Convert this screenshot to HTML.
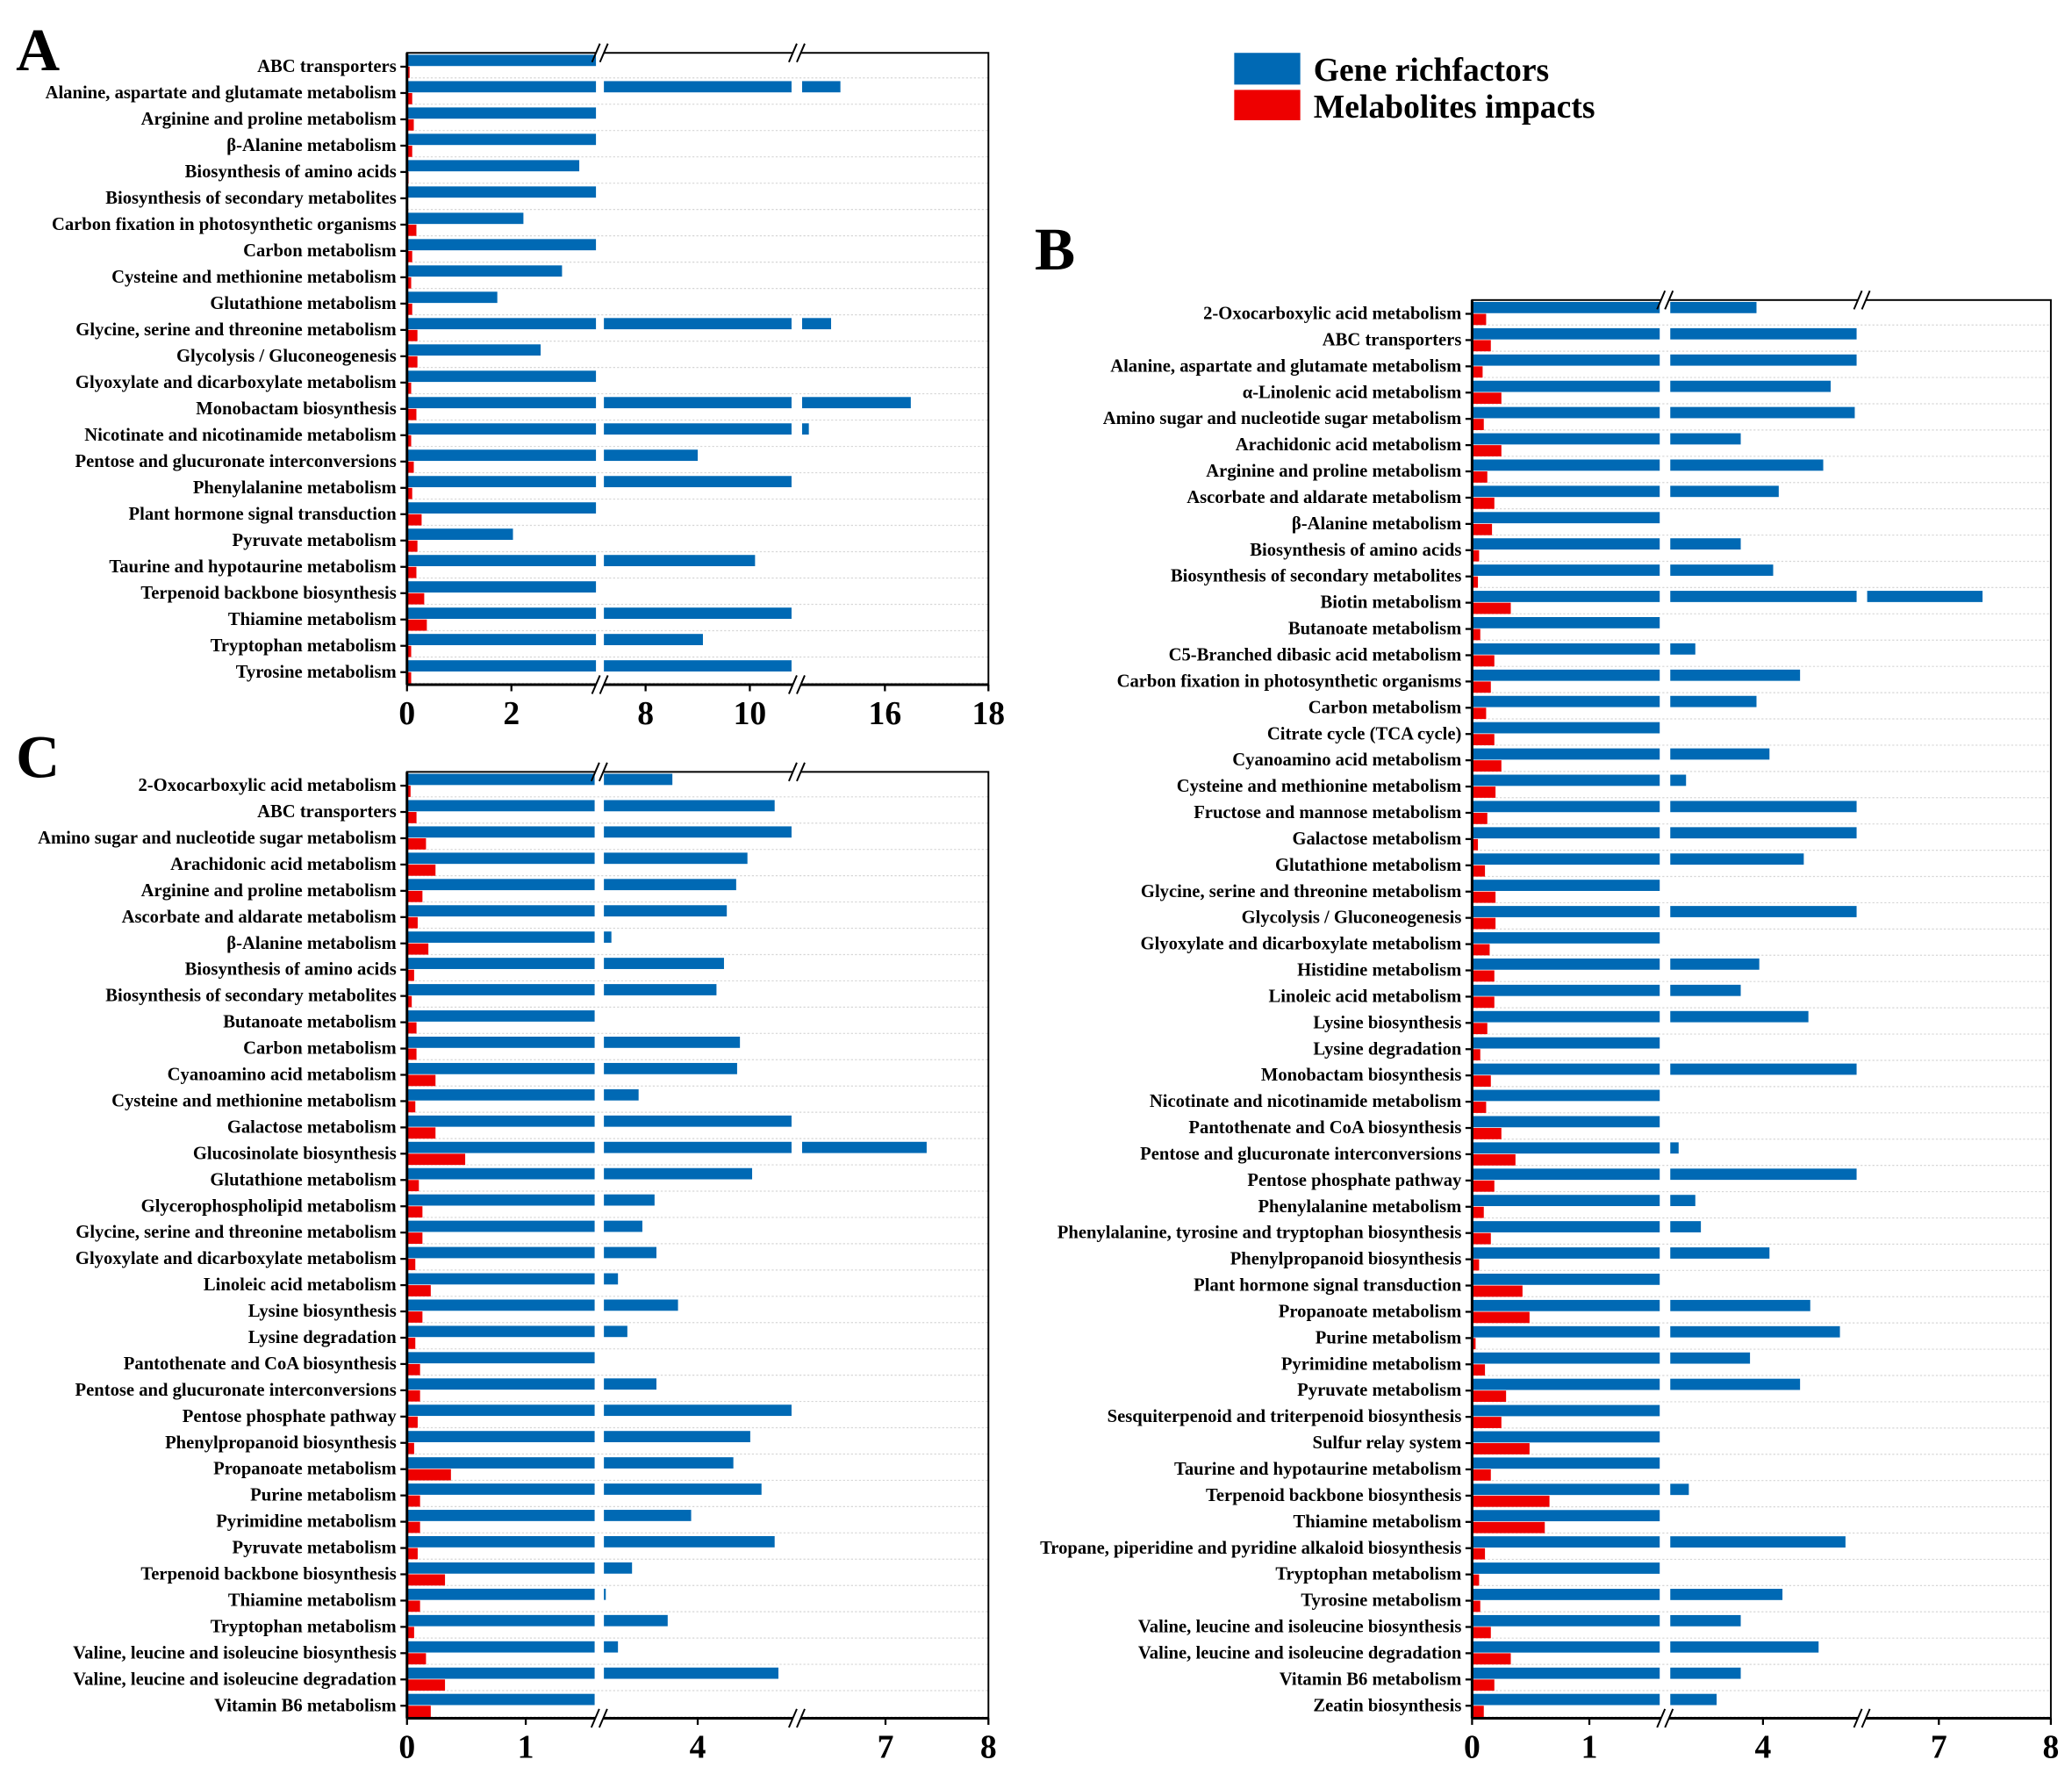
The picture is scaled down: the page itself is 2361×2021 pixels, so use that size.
<!DOCTYPE html>
<html><head><meta charset="utf-8"><style>
html,body{margin:0;padding:0;background:#fff}
svg{display:block}
text{font-family:"Liberation Serif",serif;font-weight:bold;fill:#000}
</style></head><body>
<svg id="fig" width="2361" height="2021" viewBox="0 0 1568 1342.2" xmlns="http://www.w3.org/2000/svg">
<text x="12" y="53" font-size="46">A</text>
<text x="783" y="204" font-size="46">B</text>
<text x="12" y="588" font-size="46">C</text>
<g>
<rect x="934" y="40" width="50" height="24" fill="#0069b4"/>
<text x="994" y="61" font-size="25">Gene richfactors</text>
<rect x="934" y="68" width="50" height="23" fill="#ee0000"/>
<text x="994" y="89" font-size="25">Melabolites impacts</text>
</g>
</svg>
<script>
// ---------- Panel A data ----------
const catsA = ["ABC transporters","Alanine, aspartate and glutamate metabolism","Arginine and proline metabolism","β-Alanine metabolism","Biosynthesis of amino acids","Biosynthesis of secondary metabolites","Carbon fixation in photosynthetic organisms","Carbon metabolism","Cysteine and methionine metabolism","Glutathione metabolism","Glycine, serine and threonine metabolism","Glycolysis / Gluconeogenesis","Glyoxylate and dicarboxylate metabolism","Monobactam biosynthesis","Nicotinate and nicotinamide metabolism","Pentose and glucuronate interconversions","Phenylalanine metabolism","Plant hormone signal transduction","Pyruvate metabolism","Taurine and hypotaurine metabolism","Terpenoid backbone biosynthesis","Thiamine metabolism","Tryptophan metabolism","Tyrosine metabolism"];
const geneA = [5,15.14,5,5,3.3,5,2.23,5,2.97,1.73,14.96,2.56,5,16.5,14.53,9.0,12,5,2.03,10.1,5,12,9.1,12];
const metA = [0.05,0.1,0.13,0.1,0.03,0,0.18,0.1,0.08,0.1,0.2,0.2,0.08,0.18,0.08,0.13,0.1,0.28,0.2,0.18,0.33,0.38,0.08,0.08];
const ticksA = ["0","2","8","10","16","18"];
const tickValsA = [0,2,8,10,16,18];

// ---------- Panel B data ----------
const catsB = ["2-Oxocarboxylic acid metabolism","ABC transporters","Alanine, aspartate and glutamate metabolism","α-Linolenic acid metabolism","Amino sugar and nucleotide sugar metabolism","Arachidonic acid metabolism","Arginine and proline metabolism","Ascorbate and aldarate metabolism","β-Alanine metabolism","Biosynthesis of amino acids","Biosynthesis of secondary metabolites","Biotin metabolism","Butanoate metabolism","C5-Branched dibasic acid metabolism","Carbon fixation in photosynthetic organisms","Carbon metabolism","Citrate cycle (TCA cycle)","Cyanoamino acid metabolism","Cysteine and methionine metabolism","Fructose and mannose metabolism","Galactose metabolism","Glutathione metabolism","Glycine, serine and threonine metabolism","Glycolysis / Gluconeogenesis","Glyoxylate and dicarboxylate metabolism","Histidine metabolism","Linoleic acid metabolism","Lysine biosynthesis","Lysine degradation","Monobactam biosynthesis","Nicotinate and nicotinamide metabolism","Pantothenate and CoA biosynthesis","Pentose and glucuronate interconversions","Pentose phosphate pathway","Phenylalanine metabolism","Phenylalanine, tyrosine and tryptophan biosynthesis","Phenylpropanoid biosynthesis","Plant hormone signal transduction","Propanoate metabolism","Purine metabolism","Pyrimidine metabolism","Pyruvate metabolism","Sesquiterpenoid and triterpenoid biosynthesis","Sulfur relay system","Taurine and hypotaurine metabolism","Terpenoid backbone biosynthesis","Thiamine metabolism","Tropane, piperidine and pyridine alkaloid biosynthesis","Tryptophan metabolism","Tyrosine metabolism","Valine, leucine and isoleucine biosynthesis","Valine, leucine and isoleucine degradation","Vitamin B6 metabolism","Zeatin biosynthesis"];
const geneB = [3.93,6,6,4.73,4.99,3.76,4.65,4.17,2,3.76,4.11,7.39,2,3.27,4.40,3.93,2,4.07,3.17,6,6,4.44,2,6,2,3.96,3.76,4.49,2,6,2,2,3.09,6,3.27,3.33,4.07,2,4.51,4.83,3.86,4.40,2,2,2,3.20,2,4.89,2,4.21,3.76,4.60,3.76,3.50];
const metB = [0.12,0.16,0.09,0.25,0.1,0.25,0.13,0.19,0.17,0.06,0.05,0.33,0.07,0.19,0.16,0.12,0.19,0.25,0.2,0.13,0.05,0.11,0.2,0.2,0.15,0.19,0.19,0.13,0.07,0.16,0.12,0.25,0.37,0.19,0.1,0.16,0.06,0.43,0.49,0.03,0.11,0.29,0.25,0.49,0.16,0.66,0.62,0.11,0.06,0.07,0.16,0.33,0.19,0.1];
const ticksB = ["0","1","4","7","8"];
const tickValsB = [0,1,4,7,8];

// ---------- Panel C data ----------
const catsC = ["2-Oxocarboxylic acid metabolism","ABC transporters","Amino sugar and nucleotide sugar metabolism","Arachidonic acid metabolism","Arginine and proline metabolism","Ascorbate and aldarate metabolism","β-Alanine metabolism","Biosynthesis of amino acids","Biosynthesis of secondary metabolites","Butanoate metabolism","Carbon metabolism","Cyanoamino acid metabolism","Cysteine and methionine metabolism","Galactose metabolism","Glucosinolate biosynthesis","Glutathione metabolism","Glycerophospholipid metabolism","Glycine, serine and threonine metabolism","Glyoxylate and dicarboxylate metabolism","Linoleic acid metabolism","Lysine biosynthesis","Lysine degradation","Pantothenate and CoA biosynthesis","Pentose and glucuronate interconversions","Pentose phosphate pathway","Phenylpropanoid biosynthesis","Propanoate metabolism","Purine metabolism","Pyrimidine metabolism","Pyruvate metabolism","Terpenoid backbone biosynthesis","Thiamine metabolism","Tryptophan metabolism","Valine, leucine and isoleucine biosynthesis","Valine, leucine and isoleucine degradation","Vitamin B6 metabolism"];
const geneC = [3.73,4.82,6,4.53,4.41,4.31,3.08,4.28,4.2,2,4.45,4.42,3.37,6,7.4,4.58,3.54,3.41,3.56,3.15,3.79,3.25,2,3.56,6,4.56,4.38,4.68,3.93,4.82,3.3,3.02,3.68,3.15,4.86,2];
const metC = [0.03,0.08,0.16,0.24,0.13,0.09,0.18,0.06,0.04,0.08,0.08,0.24,0.07,0.24,0.49,0.1,0.13,0.13,0.07,0.2,0.13,0.07,0.11,0.11,0.09,0.06,0.37,0.11,0.11,0.09,0.32,0.11,0.06,0.16,0.32,0.2];
const ticksC = ["0","1","4","7","8"];
const tickValsC = [0,1,4,7,8];

const NS = "http://www.w3.org/2000/svg";
const svg = document.getElementById('fig');
function mk(tag, attrs, parent){
  const e = document.createElementNS(NS, tag);
  for (const k in attrs) e.setAttribute(k, attrs[k]);
  (parent||svg).appendChild(e);
  return e;
}

function drawPanel(p){
  const g = mk('g', {});
  
  
  const n = p.cats.length;
  const step = (p.y1 - p.y0) / n;
  function xs(v){
    for (const s of p.segs){ if (v <= s.v1) return v < s.v0 ? null : s.x0 + (v - s.v0) / (s.v1 - s.v0) * (s.x1 - s.x0); }
    return p.segs[p.segs.length-1].x1;
  }
  for (let i = 1; i <= n; i++){
    const y = p.y0 + i * step - 1;
    const gl = mk('line', {x1:p.x0, x2:p.x1, y1:y, y2:y, stroke:'#d6d6d6', 'stroke-width':0.8, 'stroke-dasharray':'1.5,1.5'}, g);
    
    
  }
  for (let i = 0; i < n; i++){
    const c = p.y0 + (i + 0.5) * step + 0.5;
    const v = p.gene[i];
    for (const s of p.segs){
      if (v <= s.v0) continue;
      const end = Math.min(v, s.v1);
      const w = (end - s.v0) / (s.v1 - s.v0) * (s.x1 - s.x0);
      const r = mk('rect', {x:s.x0, y:c - 9, width:Math.max(w,0.8), height:8.5, fill:'#0069b4'}, g);
      
      
    }
    const mw = xs(p.met[i]) - p.segs[0].x0;
    if (mw > 0){
      const r = mk('rect', {x:p.x0, y:c, width:mw, height:8.5, fill:'#ee0000'}, g);
      
      
    }
    const tk = mk('line', {x1:p.x0 - 5, x2:p.x0, y1:c, y2:c, stroke:'#000', 'stroke-width':1.5}, g);
    
    
    const t = mk('text', {x:p.x0 - 8, y:c + 4, 'font-size':13.7, 'text-anchor':'end'}, g);
    t.textContent = p.cats[i];
    
    
  }
  const fr = mk('rect', {x:p.x0, y:p.y0, width:p.x1 - p.x0, height:p.y1 - p.y0, fill:'none', stroke:'#000', 'stroke-width':1.3}, g);
  
  
  const bx = mk('line', {x1:p.x0, x2:p.x1, y1:p.y1, y2:p.y1, stroke:'#000', 'stroke-width':2}, g);
  
  
  const ly = mk('line', {x1:p.x0, x2:p.x0, y1:p.y0, y2:p.y1, stroke:'#000', 'stroke-width':2}, g);
  
  
  for (let k = 0; k < p.segs.length - 1; k++){
    const bxp = (p.segs[k].x1 + p.segs[k+1].x0) / 2;
    for (const yy of [p.y0, p.y1]){
      mk('rect', {x:bxp - 3, y:yy - 3, width:6, height:6, fill:'#fff'}, g);
      for (const d of [-3, 3]){
        const bl = mk('line', {x1:bxp + d - 3, y1:yy + 7, x2:bxp + d + 3, y2:yy - 7, stroke:'#000', 'stroke-width':1.3}, g);
        
        
      }
    }
  }
  p.tickVals.forEach((tv, j) => {
    const x = xs(tv);
    const tl = mk('line', {x1:x, x2:x, y1:p.y1, y2:p.y1 + 5, stroke:'#000', 'stroke-width':1.5}, g);
    
    
    const t = mk('text', {x:x, y:p.y1 + 30, 'font-size':25, 'text-anchor':'middle'}, g);
    t.textContent = p.ticks[j];
    
    
  });
}

drawPanel({name:'panel-a-chart', cats:catsA, gene:geneA, met:metA, ticks:ticksA, tickVals:tickValsA,
  x0:308, x1:748, y0:40, y1:518,
  segs:[{v0:0,v1:3.62,x0:308,x1:451},{v0:7.2,v1:10.8,x0:457,x1:599},{v0:14.4,v1:18,x0:607,x1:748}]});
drawPanel({name:'panel-b-chart', cats:catsB, gene:geneB, met:metB, ticks:ticksB, tickVals:tickValsB,
  x0:1114, x1:1552, y0:227, y1:1300,
  segs:[{v0:0,v1:1.6,x0:1114,x1:1256},{v0:3,v1:5.01,x0:1264,x1:1405},{v0:6.36,v1:8,x0:1413,x1:1552}]});
drawPanel({name:'panel-c-chart', cats:catsC, gene:geneC, met:metC, ticks:ticksC, tickVals:tickValsC,
  x0:308, x1:748, y0:584, y1:1300,
  segs:[{v0:0,v1:1.58,x0:308,x1:450},{v0:3,v1:5.0,x0:457,x1:599},{v0:6.19,v1:8,x0:607,x1:748}]});
</script>
</body></html>
